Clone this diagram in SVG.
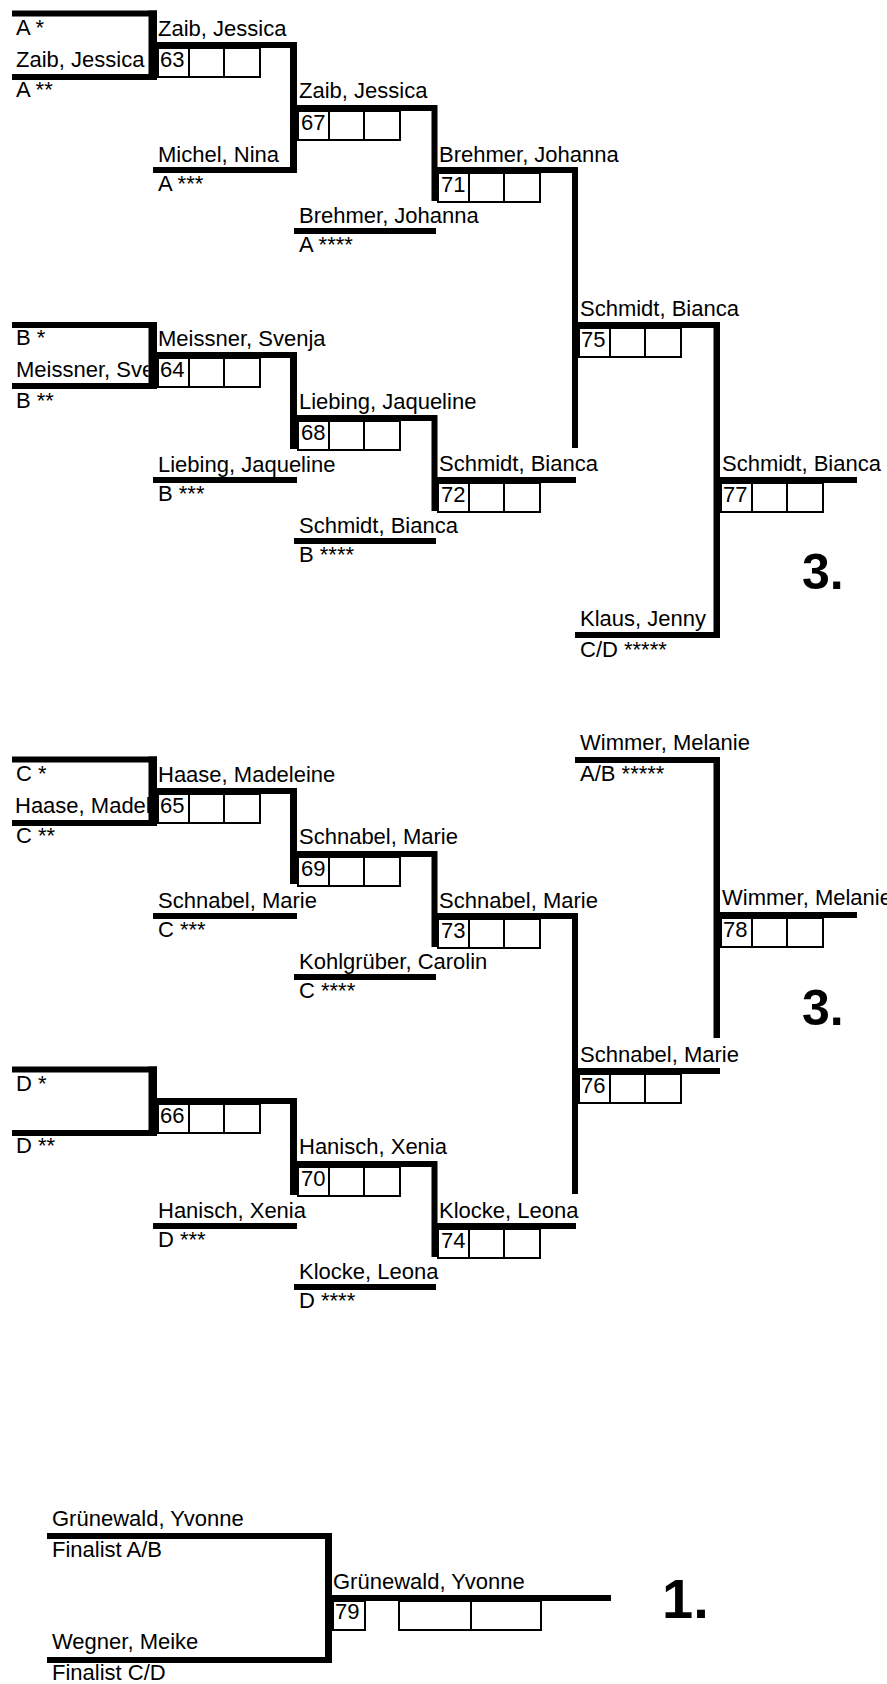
<svg xmlns="http://www.w3.org/2000/svg" xmlns:xlink="http://www.w3.org/1999/xlink" width="887" height="1684" viewBox="0 0 887 1684">
<style>
.t{font-family:"Liberation Sans",Arial,sans-serif;font-size:22px;fill:#000}
.f{font-family:"Liberation Sans",Arial,sans-serif;font-size:22px;fill:#000}
.p{font-family:"Liberation Sans",Arial,sans-serif;font-weight:bold;fill:#000}
.b{fill:none;stroke:#000;stroke-width:2}
rect.k{fill:#000}
</style>
<defs>
<clipPath id="c1"><rect x="0" y="0" width="148.5" height="1684"/></clipPath>
<clipPath id="c2"><rect x="0" y="0" width="151" height="1684"/></clipPath>
<g id="box" class="b"><rect x="1" y="3" width="102" height="29"/><line x1="32" y1="3" x2="32" y2="32"/><line x1="67" y1="3" x2="67" y2="32"/></g>
</defs>
<rect width="887" height="1684" fill="#fff"/>

<g id="seedA">
<rect class="k" x="12" y="10.5" width="145" height="6"/>
<rect class="k" x="12" y="74" width="145" height="6"/>
<text class="t" x="16" y="35">A *</text>
<text class="t" x="16" y="67">Zaib, Jessica</text>
<text class="t" x="16" y="97">A **</text>
</g>
<g id="m63">
<rect class="k" x="157" y="42" width="140" height="6"/>
<use xlink:href="#box" x="157" y="45"/>
<text class="t" x="158" y="36">Zaib, Jessica</text>
<text class="t" x="160" y="67">63</text>
</g>
<g id="seedA3">
<rect class="k" x="153" y="167" width="144" height="6"/>
<text class="t" x="158" y="162">Michel, Nina</text>
<text class="t" x="158" y="191">A ***</text>
</g>
<g id="m67">
<rect class="k" x="297" y="105" width="140" height="6"/>
<use xlink:href="#box" x="297" y="108"/>
<text class="t" x="299" y="98">Zaib, Jessica</text>
<text class="t" x="301" y="130">67</text>
</g>
<g id="seedA4">
<rect class="k" x="294" y="228" width="142" height="6"/>
<text class="t" x="299" y="223">Brehmer, Johanna</text>
<text class="t" x="299" y="252">A ****</text>
</g>
<g id="m71">
<rect class="k" x="437" y="167" width="141" height="6"/>
<use xlink:href="#box" x="437" y="170"/>
<text class="t" x="439" y="162">Brehmer, Johanna</text>
<text class="t" x="441" y="192">71</text>
</g>
<g id="m75">
<rect class="k" x="578" y="322" width="142" height="6"/>
<use xlink:href="#box" x="578" y="325"/>
<text class="t" x="580" y="316">Schmidt, Bianca</text>
<text class="t" x="581" y="347">75</text>
</g>
<g id="seedCD5">
<rect class="k" x="575" y="632" width="145" height="6"/>
<text class="t" x="580" y="626">Klaus, Jenny</text>
<text class="t" x="580" y="657">C/D *****</text>
</g>
<g id="m77">
<rect class="k" x="720" y="477" width="137" height="6"/>
<use xlink:href="#box" x="720" y="480"/>
<text class="t" x="722" y="471">Schmidt, Bianca</text>
<text class="t" x="723" y="502">77</text>
<text class="p" x="802" y="589" font-size="50">3.</text>
</g>

<g id="seedB">
<rect class="k" x="12" y="322" width="145" height="6"/>
<rect class="k" x="12" y="383" width="145" height="6"/>
<text class="t" x="16" y="345">B *</text>
<text class="t" x="16" y="377" clip-path="url(#c1)">Meissner, Sve</text>
<text class="t" x="16" y="408">B **</text>
</g>
<g id="m64">
<rect class="k" x="157" y="352" width="140" height="6"/>
<use xlink:href="#box" x="157" y="355"/>
<text class="t" x="158" y="346">Meissner, Svenja</text>
<text class="t" x="160" y="377">64</text>
</g>
<g id="seedB3">
<rect class="k" x="153" y="477" width="144" height="6"/>
<text class="t" x="158" y="472">Liebing, Jaqueline</text>
<text class="t" x="158" y="501">B ***</text>
</g>
<g id="m68">
<rect class="k" x="297" y="415" width="140" height="6"/>
<use xlink:href="#box" x="297" y="418"/>
<text class="t" x="299" y="409">Liebing, Jaqueline</text>
<text class="t" x="301" y="440">68</text>
</g>
<g id="seedB4">
<rect class="k" x="294" y="538" width="142" height="6"/>
<text class="t" x="299" y="533">Schmidt, Bianca</text>
<text class="t" x="299" y="562">B ****</text>
</g>
<g id="m72">
<rect class="k" x="437" y="477" width="139" height="6"/>
<use xlink:href="#box" x="437" y="480"/>
<text class="t" x="439" y="471">Schmidt, Bianca</text>
<text class="t" x="441" y="502">72</text>
</g>

<g id="seedC">
<rect class="k" x="12" y="756.5" width="145" height="6"/>
<rect class="k" x="12" y="820" width="145" height="6"/>
<text class="t" x="16" y="781">C *</text>
<text class="t" x="15" y="813" clip-path="url(#c2)">Haase, Madel</text>
<text class="t" x="16" y="843">C **</text>
</g>
<g id="m65">
<rect class="k" x="157" y="788" width="140" height="6"/>
<use xlink:href="#box" x="157" y="791"/>
<text class="t" x="158" y="782">Haase, Madeleine</text>
<text class="t" x="160" y="813">65</text>
</g>
<g id="seedC3">
<rect class="k" x="153" y="913" width="144" height="6"/>
<text class="t" x="158" y="908">Schnabel, Marie</text>
<text class="t" x="158" y="937">C ***</text>
</g>
<g id="m69">
<rect class="k" x="297" y="851" width="140" height="6"/>
<use xlink:href="#box" x="297" y="854"/>
<text class="t" x="299" y="844">Schnabel, Marie</text>
<text class="t" x="301" y="876">69</text>
</g>
<g id="seedC4">
<rect class="k" x="294" y="974" width="142" height="6"/>
<text class="t" x="299" y="969">Kohlgrüber, Carolin</text>
<text class="t" x="299" y="998">C ****</text>
</g>
<g id="m73">
<rect class="k" x="437" y="913" width="141" height="6"/>
<use xlink:href="#box" x="437" y="916"/>
<text class="t" x="439" y="908">Schnabel, Marie</text>
<text class="t" x="441" y="938">73</text>
</g>
<g id="m76">
<rect class="k" x="578" y="1068" width="142" height="6"/>
<use xlink:href="#box" x="578" y="1071"/>
<text class="t" x="580" y="1062">Schnabel, Marie</text>
<text class="t" x="581" y="1093">76</text>
</g>
<g id="seedAB5">
<rect class="k" x="575" y="757" width="145" height="6"/>
<text class="t" x="580" y="750">Wimmer, Melanie</text>
<text class="t" x="580" y="781">A/B *****</text>
</g>
<g id="m78">
<rect class="k" x="720" y="912" width="137" height="6"/>
<use xlink:href="#box" x="720" y="915"/>
<text class="t" x="722" y="905">Wimmer, Melanie</text>
<text class="t" x="723" y="937">78</text>
<text class="p" x="802" y="1025" font-size="50">3.</text>
</g>

<g id="seedD">
<rect class="k" x="12" y="1066.5" width="145" height="6"/>
<rect class="k" x="12" y="1130" width="145" height="6"/>
<text class="t" x="16" y="1091">D *</text>
<text class="t" x="16" y="1153">D **</text>
</g>
<g id="m66">
<rect class="k" x="157" y="1098" width="140" height="6"/>
<use xlink:href="#box" x="157" y="1101"/>
<text class="t" x="160" y="1123">66</text>
</g>
<g id="seedD3">
<rect class="k" x="153" y="1223" width="144" height="6"/>
<text class="t" x="158" y="1218">Hanisch, Xenia</text>
<text class="t" x="158" y="1247">D ***</text>
</g>
<g id="m70">
<rect class="k" x="297" y="1161" width="140" height="6"/>
<use xlink:href="#box" x="297" y="1164"/>
<text class="t" x="299" y="1154">Hanisch, Xenia</text>
<text class="t" x="301" y="1186">70</text>
</g>
<g id="seedD4">
<rect class="k" x="294" y="1284" width="142" height="6"/>
<text class="t" x="299" y="1279">Klocke, Leona</text>
<text class="t" x="299" y="1308">D ****</text>
</g>
<g id="m74">
<rect class="k" x="437" y="1223" width="139" height="6"/>
<use xlink:href="#box" x="437" y="1226"/>
<text class="t" x="439" y="1218">Klocke, Leona</text>
<text class="t" x="441" y="1248">74</text>
</g>

<g id="finalistAB">
<rect class="k" x="47" y="1533" width="285" height="6"/>
<text class="f" x="52" y="1526">Grünewald, Yvonne</text>
<text class="f" x="52" y="1557">Finalist A/B</text>
</g>
<g id="finalistCD">
<rect class="k" x="47" y="1657" width="285" height="6"/>
<text class="f" x="52" y="1649">Wegner, Meike</text>
<text class="f" x="52" y="1680">Finalist C/D</text>
</g>
<g id="m79">
<rect class="k" x="332" y="1595" width="279" height="6"/>
<g class="b">
<rect x="333" y="1601" width="32" height="29"/>
<rect x="399" y="1601" width="72" height="29"/>
<rect x="471" y="1601" width="70" height="29"/>
</g>
<text class="f" x="333" y="1589">Grünewald, Yvonne</text>
<text class="t" x="335" y="1619">79</text>
<text class="p" x="662" y="1618" font-size="56">1.</text>
</g>

<g id="connectors">
<rect class="k" x="148.5" y="10.5" width="8.5" height="69.5"/>
<rect class="k" x="290" y="42" width="7" height="131"/>
<rect class="k" x="431.5" y="105" width="6" height="96"/>
<rect class="k" x="572" y="167" width="6" height="281"/>
<rect class="k" x="713.5" y="322" width="6.5" height="316"/>
<rect class="k" x="148.5" y="322" width="8.5" height="67"/>
<rect class="k" x="290" y="352" width="7" height="97"/>
<rect class="k" x="431.5" y="415" width="6" height="96"/>
<rect class="k" x="148.5" y="756.5" width="8.5" height="69.5"/>
<rect class="k" x="290" y="788" width="7" height="96"/>
<rect class="k" x="431.5" y="851" width="6" height="96"/>
<rect class="k" x="572" y="913" width="6" height="281"/>
<rect class="k" x="713.5" y="757" width="6.5" height="281"/>
<rect class="k" x="148.5" y="1066.5" width="8.5" height="69.5"/>
<rect class="k" x="290" y="1098" width="7" height="97"/>
<rect class="k" x="431.5" y="1161" width="6" height="96"/>
<rect class="k" x="325" y="1533" width="7" height="130"/>
</g>
</svg>
